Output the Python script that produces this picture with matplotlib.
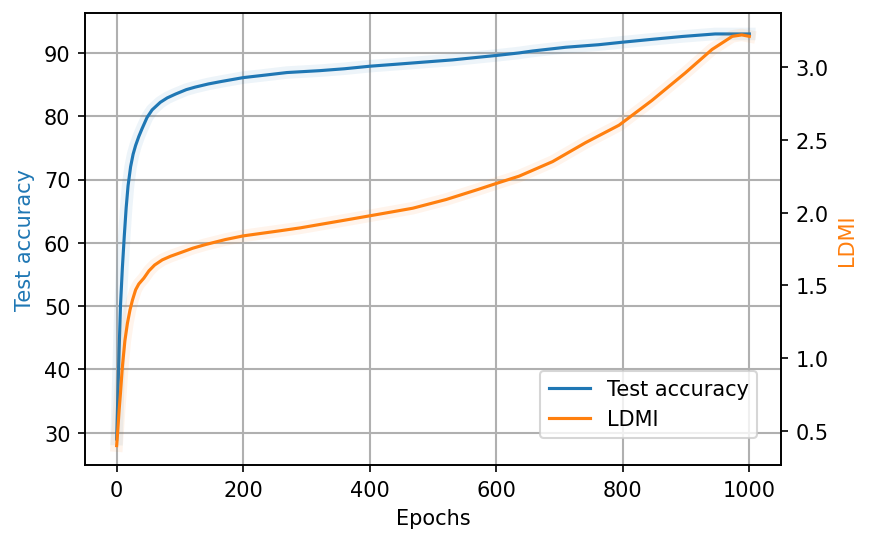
import numpy as np
import matplotlib
matplotlib.use("Agg")
import matplotlib.pyplot as plt

# test accuracy vs. epoch
acc_epochs = [0, 3, 6, 9, 12, 15, 18, 22, 26, 30, 35, 40, 48, 56, 69, 80, 93,
              110, 124, 145, 166, 200, 235, 269, 321, 360, 400, 440, 479, 531,
              570, 600, 636, 657, 710, 762, 800, 841, 894, 946, 975, 1000]
acc = [29.0, 40.0, 50.0, 56.0, 61.0, 65.5, 69.0, 72.0, 74.0, 75.4, 76.8, 78.0,
       79.8, 81.0, 82.2, 82.9, 83.5, 84.2, 84.6, 85.1, 85.5, 86.1, 86.5, 86.9,
       87.2, 87.5, 87.9, 88.2, 88.5, 88.9, 89.3, 89.6, 90.0, 90.3, 90.9, 91.3,
       91.7, 92.1, 92.6, 93.0, 93.0, 93.0]

# LDMI vs. epoch
ldmi_epochs = [0, 2, 4, 6, 9, 13, 17, 21, 25, 30, 35, 43, 51, 60, 72, 85, 101,
               120, 140, 172, 200, 258, 290, 330, 370, 416, 468, 521, 572, 600,
               636, 652, 689, 741, 794, 846, 899, 941, 973, 988, 1000]
ldmi = [0.40, 0.52, 0.65, 0.76, 0.94, 1.12, 1.24, 1.33, 1.40, 1.47, 1.51, 1.55,
        1.60, 1.64, 1.675, 1.70, 1.725, 1.755, 1.78, 1.815, 1.84, 1.875, 1.895,
        1.925, 1.955, 1.99, 2.03, 2.09, 2.16, 2.20, 2.25, 2.28, 2.35, 2.48,
        2.60, 2.77, 2.96, 3.12, 3.21, 3.22, 3.21]

fig, ax1 = plt.subplots(figsize=(5.82, 3.633), dpi=150)
fig.subplots_adjust(left=0.0974, right=0.8946, top=0.9743, bottom=0.145)

# faint spread band behind each curve
ax1.plot(acc_epochs, acc, color="C0", lw=6, alpha=0.08)
l1, = ax1.plot(acc_epochs, acc, color="C0", lw=1.5, label="Test accuracy")
ax1.set_xlabel("Epochs")
ax1.set_ylabel("Test accuracy", color="C0")
ax1.set_xlim(-50, 1050)
ax1.set_ylim(24.9, 96.3)
ax1.grid(True, color="#b0b0b0", lw=1)

ax2 = ax1.twinx()
ax2.plot(ldmi_epochs, ldmi, color="C1", lw=6, alpha=0.08)
l2, = ax2.plot(ldmi_epochs, ldmi, color="C1", lw=1.5, label="LDMI")
ax2.set_ylabel("LDMI", color="C1")
ax2.set_ylim(0.267, 3.37)

ax2.legend(handles=[l1, l2], loc="lower right",
           bbox_to_anchor=(0.966, 0.06), borderaxespad=0)

fig.savefig("out.png", dpi=150)
